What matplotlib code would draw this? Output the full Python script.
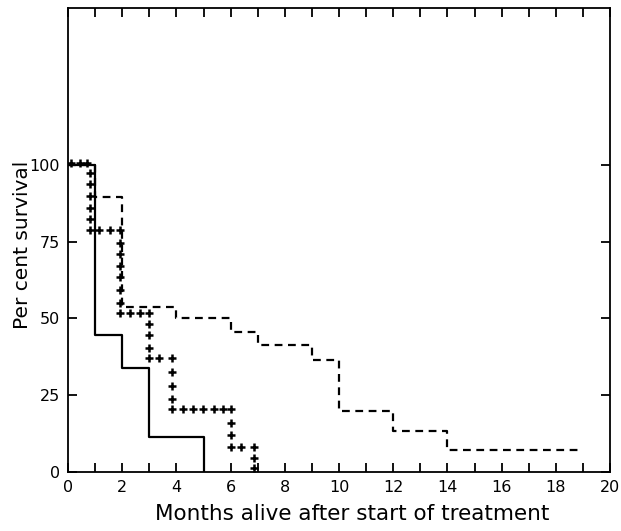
import matplotlib
matplotlib.use("Agg")
import matplotlib.pyplot as plt
import numpy as np

# survival curves (months, per cent)
solid_t = [0, 1, 2, 3, 5]
solid_s = [100, 44.6, 33.8, 11.5, 0]

dash_t = [0, 1, 2, 4, 6, 7, 9, 10, 12, 14, 19]
dash_s = [100, 89.4, 53.8, 50.1, 45.7, 41.4, 36.5, 19.8, 13.4, 7.2, 7.2]

# crosses drawn along the third curve
cross_t = [0.1, 0.44, 0.71,
           0.82, 0.82, 0.82, 0.82, 0.82, 0.82,
           1.16, 1.55,
           1.92, 1.92, 1.92, 1.92, 1.92, 1.92, 1.92, 1.92,
           2.29, 2.66,
           3.0, 3.0, 3.0, 3.0, 3.0,
           3.37,
           3.84, 3.84, 3.84, 3.84, 3.84,
           4.23, 4.6, 4.99, 5.39, 5.71,
           6.0, 6.0, 6.0, 6.0,
           6.4,
           6.85, 6.85, 6.85]
cross_s = [100.5, 100.5, 100.5,
           97.3, 93.7, 89.7, 85.9, 82.3, 78.6,
           78.6, 78.6,
           78.6, 74.6, 71.0, 67.0, 63.6, 59.3, 55.0, 51.8,
           51.8, 51.8,
           51.8, 48.2, 44.6, 40.3, 37.0,
           37.0,
           37.0, 32.7, 28.0, 23.9, 20.4,
           20.4, 20.4, 20.4, 20.4, 20.4,
           20.4, 16.1, 12.1, 8.1,
           8.1,
           8.1, 4.5, 1.4]

x_ticks = np.arange(0, 21, 1)
x_labels = [str(v) if v % 2 == 0 else "" for v in x_ticks]
y_ticks = [0, 25, 50, 75, 100]

plt.rcParams['font.family'] = ['Liberation Sans Narrow', 'DejaVu Sans']

fig = plt.figure(figsize=(6.21, 5.31), dpi=100)
ax = fig.add_axes([68 / 621, 59 / 531, 542 / 621, 464 / 531])

ax.plot(solid_t, solid_s, drawstyle="steps-post", color="black", lw=1.6)
ax.plot(dash_t, dash_s, drawstyle="steps-post", color="black", lw=1.6,
        linestyle=(0, (3.5, 2.5)))
ax.plot(cross_t, cross_s, linestyle="none", marker="+", color="black",
        markersize=5.5, markeredgewidth=1.8)

ax.set_xlim(0, 20)
ax.set_ylim(0, 151)
ax.set_xticks(x_ticks)
ax.set_xticklabels(x_labels)
ax.set_yticks(y_ticks)
ax.tick_params(direction="in", length=6.5, width=1.3, top=True, right=True,
               labelsize=11.5, pad=6)
for sp in ax.spines.values():
    sp.set_linewidth(1.3)

ax.set_xlabel("Months alive after start of treatment", fontsize=15.5,
              family=['DejaVu Sans'])
ax.xaxis.set_label_coords(0.524, -0.068)
ax.set_ylabel("Per cent survival", fontsize=14.5, family=['DejaVu Sans'])
ax.yaxis.set_label_coords(-0.066, 0.49)

fig.savefig("out.png", dpi=100)
